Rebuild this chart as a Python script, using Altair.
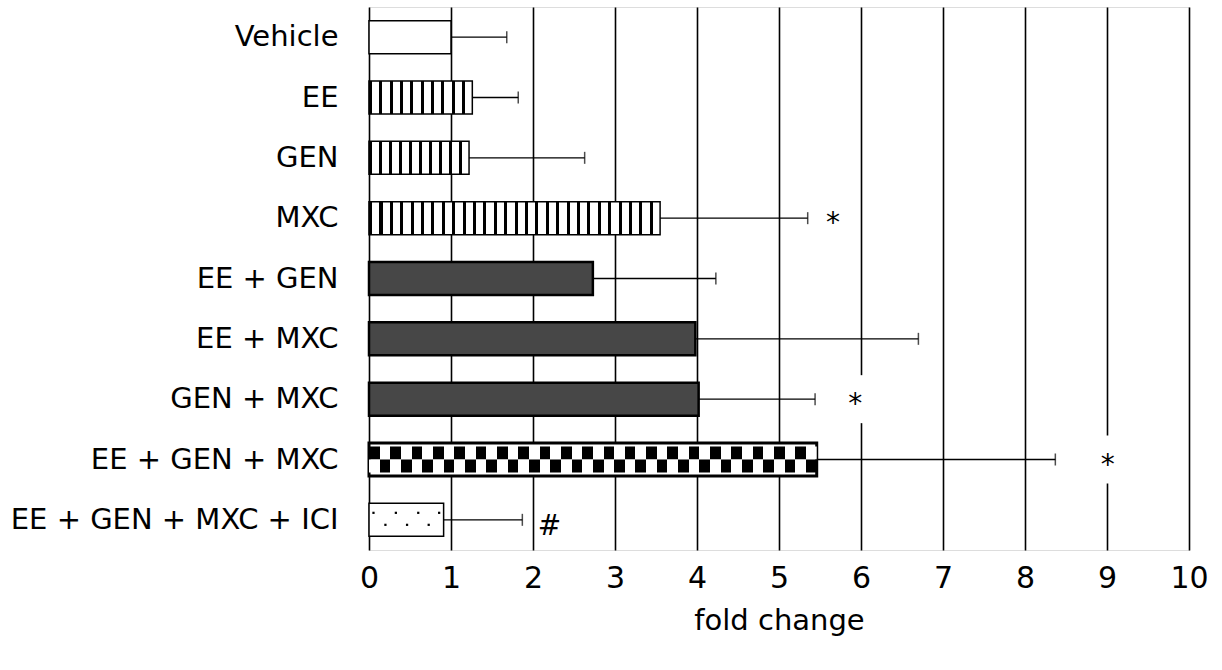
import altair as alt
import pandas as pd

categories = ["Vehicle", "EE", "GEN", "MXC", "EE + GEN", "EE + MXC",
              "GEN + MXC", "EE + GEN + MXC", "EE + GEN + MXC + ICI"]
means = [1.00, 1.26, 1.22, 3.55, 2.73, 3.98, 4.02, 5.46, 0.91]
err_hi = [1.68, 1.82, 2.63, 5.35, 4.23, 6.70, 5.44, 8.37, 1.87]
patterns = ["blank", "stripes", "stripes", "stripes", "speckle", "speckle",
            "speckle", "checker", "dots"]
marks = ["", "", "", "*", "", "", "*", "*", "#"]
mark_x = [None, None, None, 5.66, None, None, 5.93, 9.01, 2.2]
x_ticks = list(range(0, 11))
# dot pattern of the ICI bar, as fractions of the bar length
dot_frac_top = [0.06, 0.36, 0.66, 0.94]
dot_frac_bottom = [0.22, 0.51, 0.80]

FONT = "DejaVu Sans"
PX_PER_UNIT = 82.0

df = pd.DataFrame({"cat": categories, "mean": means, "err": err_hi,
                   "pattern": patterns})
ann = pd.DataFrame({"cat": categories, "label": marks, "x": mark_x}).dropna()
ann["gx"] = ann["x"].round()
gaps = ann[(ann["label"] == "*") & ((ann["x"] - ann["gx"]).abs() < 0.15)]
stars = ann[ann["label"] == "*"]
hashes = ann[ann["label"] == "#"]

ici_mean = means[categories.index("EE + GEN + MXC + ICI")]
dots_top = pd.DataFrame({"cat": "EE + GEN + MXC + ICI",
                         "x": [f * ici_mean for f in dot_frac_top]})
dots_bot = pd.DataFrame({"cat": "EE + GEN + MXC + ICI",
                         "x": [f * ici_mean for f in dot_frac_bottom]})

y_enc = alt.Y("cat:N", sort=categories, title=None,
              scale=alt.Scale(paddingInner=0.45, paddingOuter=0.225),
              axis=alt.Axis(ticks=False, domain=False, grid=False,
                            labelFontSize=29, labelFont=FONT,
                            labelColor="black", labelPadding=31,
                            labelLimit=600))
x_enc = alt.X("mean:Q", scale=alt.Scale(domain=[0, 10], nice=False),
              axis=alt.Axis(values=x_ticks, format="d", grid=True,
                            gridColor="black", gridWidth=1.6, gridOpacity=1,
                            ticks=False, domain=False, labelFlush=False,
                            labelFontSize=30, labelFont=FONT,
                            labelColor="black", labelPadding=13,
                            title="fold change", titleFontSize=29,
                            titleFont=FONT, titleFontWeight="normal",
                            titleColor="black", titlePadding=13))
y_plain = alt.Y("cat:N", sort=categories)


def stripe_gradient(n, duty, c1="black", c2="white"):
    stops = []
    for i in range(n):
        a = i / n
        b = (i + duty) / n
        e = (i + 1) / n
        stops += [{"offset": a, "color": c1},
                  {"offset": b, "color": c1},
                  {"offset": b, "color": c2},
                  {"offset": e, "color": c2}]
    return alt.LinearGradient(gradient="linear", x1=0, x2=1, y1=0, y2=0,
                              stops=stops)


layers = []
for c, m, p in zip(categories, means, patterns):
    sub = alt.Chart(df).transform_filter(alt.datum.cat == c)
    if p == "stripes":
        n = max(1, round(m * PX_PER_UNIT / 10.3))
        fill = stripe_gradient(n, 0.3)
        layers.append(sub.mark_bar(size=33, fill=fill, stroke="black",
                                   strokeWidth=1.5).encode(x=x_enc, y=y_enc))
    elif p == "speckle":
        layers.append(sub.mark_bar(size=33, fill="#474747", stroke="black",
                                   strokeWidth=2.5).encode(x=x_enc, y=y_enc))
    elif p == "checker":
        n = max(1, round(m * PX_PER_UNIT / 21.7))
        layers.append(sub.mark_bar(size=33, fill="white", stroke="black",
                                   strokeWidth=3).encode(x=x_enc, y=y_enc))
        layers.append(sub.mark_bar(size=13, yOffset=-6.5,
                                   fill=stripe_gradient(n, 0.5))
                      .encode(x=x_enc, y=y_enc))
        layers.append(sub.mark_bar(size=13, yOffset=6.5,
                                   fill=stripe_gradient(n, 0.5, "white", "black"))
                      .encode(x=x_enc, y=y_enc))
    else:
        layers.append(sub.mark_bar(size=33, fill="white", stroke="black",
                                   strokeWidth=1.5).encode(x=x_enc, y=y_enc))

dot_top_layer = alt.Chart(dots_top).mark_point(
    shape="square", filled=True, color="black", size=5, opacity=1,
    yOffset=-7).encode(x="x:Q", y=y_plain)
dot_bot_layer = alt.Chart(dots_bot).mark_point(
    shape="square", filled=True, color="black", size=5, opacity=1,
    yOffset=5).encode(x="x:Q", y=y_plain)

err_line = alt.Chart(df).mark_rule(color="black", strokeWidth=1.3).encode(
    x=alt.X("mean:Q"), x2="err:Q", y=y_plain)
err_cap = alt.Chart(df).mark_tick(color="black", thickness=1.5, size=12).encode(
    x=alt.X("err:Q"), y=y_plain)
grid_gap = alt.Chart(gaps).mark_tick(color="white", thickness=4, size=48,
                                     opacity=1).encode(x="gx:Q", y=y_plain)
star_text = alt.Chart(stars).mark_text(font=FONT, fontSize=28, color="black",
                                       baseline="middle", dy=6).encode(
    x=alt.X("x:Q"), y=y_plain, text="label:N")
hash_text = alt.Chart(hashes).mark_text(font=FONT, fontSize=28, color="black",
                                        baseline="middle", dy=7).encode(
    x=alt.X("x:Q"), y=y_plain, text="label:N")

chart = alt.layer(*layers, dot_top_layer, dot_bot_layer, err_line, err_cap,
                  grid_gap, star_text, hash_text).properties(
    width=820, height=543,
    autosize=alt.AutoSizeParams(type="none"),
    padding={"left": 369, "top": 7, "right": 33, "bottom": 120},
).configure_view(stroke="black", strokeWidth=2).configure(background="white")

chart.save("out.html", embed_options={"renderer": "svg", "actions": False})
